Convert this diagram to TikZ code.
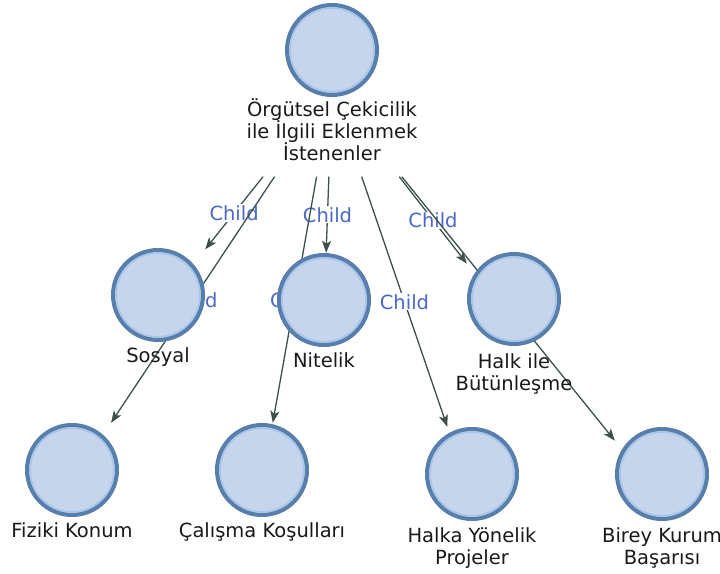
\documentclass[tikz,border=0pt]{standalone}
\usepackage{fontspec}
\setmainfont{DejaVu Sans}
\usetikzlibrary{positioning, fit, backgrounds, arrows.meta}

\definecolor{entfill}{RGB}{198,213,235}
\definecolor{entring}{RGB}{88,127,172}
\definecolor{entinner}{RGB}{165,198,236}
\definecolor{reledge}{RGB}{60,80,76}
\definecolor{relblue}{RGB}{74,104,196}
\definecolor{lbltext}{RGB}{25,25,25}

\tikzset{
  ent/.style={circle, draw=entring, line width=4pt, fill=entfill, minimum size=90pt, inner sep=0pt,
    path picture={\draw[entinner, line width=1.4pt] (path picture bounding box.center) circle (41.8pt);}},
  lbl/.style={font=\fontsize{19.5}{22}\selectfont, text=lbltext, align=center, inner xsep=0pt, inner ysep=3pt, anchor=base},
  box/.style={inner sep=0pt},
  rel/.style={draw=reledge, line width=1.3pt, -{Stealth[length=12pt,width=9pt,inset=3pt]}},
  relname/.style={font=\fontsize{19.5}{22}\selectfont, text=relblue, fill=white, inner sep=1pt}
}

\begin{document}
\begin{tikzpicture}[x=1pt, y=-1pt]
	\useasboundingbox (0,0) rectangle (720,573);
	
	% circles with their names below (base = last line)
	\node[ent] (c-top) at (332,50) {};
	\node[lbl, inner ysep=16pt] (l-top) at ([yshift=-63pt]c-top.south) {Örgütsel Çekicilik\\ile İlgili Eklenmek\\İstenenler};
	
	\node[ent] (c-sosyal) at (158,295) {};
	\node[lbl] (l-sosyal) at ([yshift=-20pt]c-sosyal.south) {Sosyal};
	\node[ent] (c-nitelik) at (324,300) {};
	\node[lbl] (l-nitelik) at ([yshift=-20pt]c-nitelik.south) {Nitelik};
	\node[ent] (c-halk) at (514,299) {};
	\node[lbl] (l-halk) at ([yshift=-44pt]c-halk.south) {Halk ile\\Bütünleşme};
	
	\node[ent] (c-fiziki) at (72,470) {};
	\node[lbl] (l-fiziki) at ([yshift=-20pt]c-fiziki.south) {Fiziki Konum};
	\node[ent] (c-calisma) at (262,470) {};
	\node[lbl] (l-calisma) at ([yshift=-20pt]c-calisma.south) {Çalışma Koşulları};
	\node[ent] (c-halka) at (472,474) {};
	\node[lbl] (l-halka) at ([yshift=-43pt]c-halka.south) {Halka Yönelik\\Projeler};
	\node[ent] (c-birey) at (662,474) {};
	\node[lbl] (l-birey) at ([yshift=-43pt]c-birey.south) {Birey Kurum\\Başarısı};
	
	% boxes round circle and name, the edges end on them
	\node[box, fit=(c-top)(l-top)] (top) {};
	\node[box, fit=(c-sosyal)(c-sosyal |- l-sosyal.south)] (sosyal) {};
	\node[box, fit=(c-nitelik)(c-nitelik |- l-nitelik.south)] (nitelik) {};
	\node[box, fit=(c-halk)(c-halk |- l-halk.south)] (halk) {};
	\node[box, fit=(c-fiziki)(c-fiziki |- l-fiziki.south)] (fiziki) {};
	\node[box, fit=(c-calisma)(c-calisma |- l-calisma.south)] (calisma) {};
	\node[box, fit=(c-halka)(c-halka |- l-halka.south)] (halka) {};
	\node[box, fit=(c-birey)(c-birey |- l-birey.south)] (birey) {};
	
	\begin{scope}[on background layer]
		\draw[rel] (top) -- node[relname]{Child} (sosyal);
		\draw[rel] (top) -- node[relname]{Child} (fiziki);
		\draw[rel] (top) -- node[relname]{Child} (nitelik);
		\draw[rel] (top) -- node[relname]{Child} (calisma);
		\draw[rel] (top) -- node[relname]{Child} (halka);
		\draw[rel] (top) -- node[relname]{Child} (halk);
		\draw[rel] (top) -- node[relname]{Child} (birey);
	\end{scope}
	
\end{tikzpicture}
\end{document}
